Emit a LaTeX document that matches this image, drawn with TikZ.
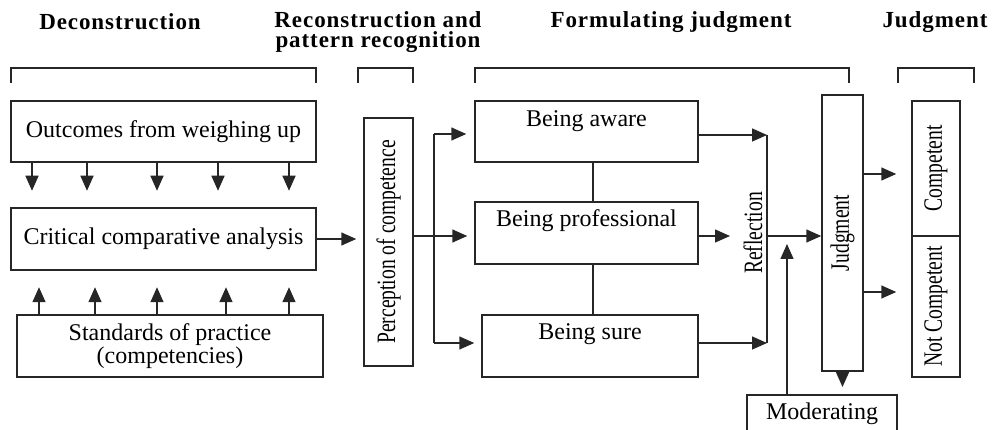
\documentclass[tikz,border=0pt]{standalone}
\usepackage{fontspec}
\setmainfont{Liberation Serif}
\newfontfamily\headfont[LetterSpace=4]{Liberation Serif}
\usetikzlibrary{arrows.meta,calc}
\definecolor{ink}{HTML}{262626}
% condensed text for the upright boxes
\newcommand\vt[1]{\scalebox{0.74}[1]{\fontsize{26.5}{28}\selectfont #1}}

\begin{document}
\begin{tikzpicture}[x=1pt,y=-1pt,
  box/.style={draw=ink, line width=1.5pt, inner sep=0pt, font=\fontsize{24}{26}\selectfont},
  lbl/.style={inner sep=0pt, font=\fontsize{24}{26}\selectfont},
  arr/.style={draw=ink, line width=1.5pt, -{Triangle[length=15pt,width=13pt]}},
  ln/.style={draw=ink, line width=1.5pt},
  head/.style={align=center, inner sep=1pt, font=\headfont\bfseries\fontsize{23}{20}\selectfont},
  brk/.style={draw=ink, line width=1.5pt}]

\useasboundingbox (0,0) rectangle (999,430);

% stage headings
\node[head] (h1) at (120,22) {Deconstruction};
\node[head] (h2) at (378,32) {Reconstruction and\\pattern recognition};
\node[head] (h3) at (671,22) {Formulating judgment};
\node[head] (h4) at (935,22) {Judgment};

% brackets under the headings
\draw[brk] (11,83) -- (11,68) -- (316,68) -- (316,83);
\draw[brk] (358,83) -- (358,68) -- (413,68) -- (413,83);
\draw[brk] (475,83) -- (475,68) -- (849,68) -- (849,83);
\draw[brk] (898,83) -- (898,68) -- (974,68) -- (974,83);

% deconstruction
\node[box, minimum width=305, minimum height=61] (outc) at (163.5,131.5) {Outcomes from weighing up};
\node[box, minimum width=305, minimum height=62] (crit) at (163.5,239) {Critical comparative analysis};
\node[box, minimum width=306, minimum height=62, align=center, font=\fontsize{24}{23}\selectfont] (stand) at (170,346) {Standards of practice\\(competencies)};

\foreach \x in {32,87,157,218,289}
  \draw[arr] (outc.south -| \x,0) -- ++(0,28);
\foreach \x in {39,95,157,226,289}
  \draw[arr] (stand.north -| \x,0) -- ++(0,-27);

% reconstruction
\node[box, minimum width=49, minimum height=248] (perc) at (388.5,242) {\rotatebox{90}{\vt{Perception of competence}}};
\draw[arr, shorten >=7pt] (crit.east) -- (perc.west |- crit.east);

% formulating judgment
\node[box, minimum width=223, minimum height=61] (aware) at (586.5,131.5) {};
\node[lbl, anchor=base] (awaret) at (586.5,127) {Being aware};
\node[box, minimum width=223, minimum height=62] (prof) at (586.5,233) {};
\node[lbl, anchor=base] (proft) at (586.5,227) {Being professional};
\node[box, minimum width=216, minimum height=62] (sure) at (590,346) {};
\node[lbl, anchor=base] (suret) at (590,340) {Being sure};

\draw[ln] (aware.south -| 593,0) -- (prof.north -| 593,0);
\draw[ln] (prof.south -| 593,0) -- (sure.north -| 593,0);

% fan-out from perception
\coordinate (pj) at (434,236);
\coordinate (ptop) at (434,134);
\coordinate (pbot) at (434,343);
\draw[ln] (perc.east |- pj) -- (pj);
\draw[ln] (ptop) -- (pbot);
\draw[arr, shorten >=7pt] (pj) -- (prof.west |- pj);
\draw[arr, shorten >=8pt] (ptop) -- (aware.west |- ptop);
\draw[arr, shorten >=7pt] (pbot) -- (sure.west |- pbot);

% reflection
\coordinate (rtop) at (767,135);
\coordinate (rbot) at (767,343);
\coordinate (rj) at (767,236);
\node[inner sep=0pt] (refl) at (753,233) {\rotatebox{90}{\vt{Reflection}}};
\draw[ln] (rtop) -- (rbot);
\draw[arr] (aware.east |- rtop) -- (rtop);
\draw[arr] (sure.east |- rbot) -- (rbot);
\draw[arr, shorten >=37pt] (prof.east |- rj) -- (rj);

% judgment
\node[box, minimum width=41, minimum height=276] (judg) at (842.5,233) {\rotatebox{90}{\vt{Judgment}}};
\draw[arr] (rj) -- (judg.west |- rj);

% moderating
\node[box, minimum width=150, minimum height=38, anchor=north] (mod) at (822,394) {Moderating};
\coordinate (modtip) at (787,244);
\draw[arr] (mod.north -| modtip) -- (modtip);
\draw[arr, shorten >=7pt] (judg.south) -- (judg.south |- mod.north);

% outcome
\node[box, minimum width=48, minimum height=135] (comp) at (936,168.5) {\rotatebox{90}{\vt{Competent}}};
\node[box, minimum width=48, minimum height=141] (notc) at (936,306.5) {\rotatebox{90}{\vt{Not Competent}}};
\draw[arr, shorten >=15pt] (judg.east |- 0,174) -- (comp.west |- 0,174);
\draw[arr, shorten >=15pt] (judg.east |- 0,292) -- (notc.west |- 0,292);

\end{tikzpicture}
\end{document}
